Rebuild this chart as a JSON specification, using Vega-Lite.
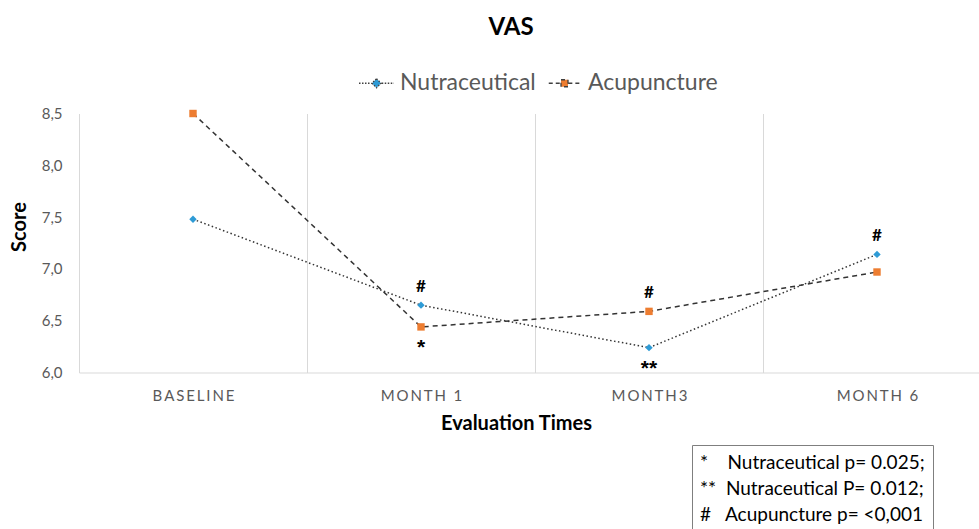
{
  "$schema": "https://vega.github.io/schema/vega-lite/v6.json",
  "autosize": {"type": "none"},
  "width": 900,
  "height": 259,
  "padding": {"left": 79, "top": 113.5, "right": 0, "bottom": 156.5},
  "background": "white",
  "config": {"view": {"stroke": null}, "font": "Lato"},
  "title": {"text": "VAS", "fontSize": 24, "fontWeight": "bold", "color": "#000000", "anchor": "middle", "frame": "group", "dx": -18, "offset": 25},
  "datasets": {
    "scores": [
      {"series": "Nutraceutical", "time": "BASELINE", "score": 7.48},
      {"series": "Nutraceutical", "time": "MONTH 1", "score": 6.65},
      {"series": "Nutraceutical", "time": "MONTH3", "score": 6.24},
      {"series": "Nutraceutical", "time": "MONTH 6", "score": 7.14},
      {"series": "Acupuncture", "time": "BASELINE", "score": 8.5},
      {"series": "Acupuncture", "time": "MONTH 1", "score": 6.44},
      {"series": "Acupuncture", "time": "MONTH3", "score": 6.59},
      {"series": "Acupuncture", "time": "MONTH 6", "score": 6.97}
    ],
    "marks": [
      {"time": "MONTH 1", "score": 6.65, "sym": "#", "pos": "above", "note": "#\u00a0\u00a0\u00a0Acupuncture p= <0,001"},
      {"time": "MONTH3", "score": 6.59, "sym": "#", "pos": "above", "note": "#\u00a0\u00a0\u00a0Acupuncture p= <0,001"},
      {"time": "MONTH 6", "score": 7.14, "sym": "#", "pos": "above", "note": "#\u00a0\u00a0\u00a0Acupuncture p= <0,001"},
      {"time": "MONTH 1", "score": 6.44, "sym": "*", "pos": "below", "note": "*\u00a0\u00a0\u00a0\u00a0Nutraceutical p= 0.025;"},
      {"time": "MONTH3", "score": 6.24, "sym": "**", "pos": "below", "note": "**\u00a0\u00a0Nutraceutical P= 0.012;"}
    ]
  },
  "resolve": {
    "scale": {"color": "independent", "shape": "independent", "strokeDash": "independent"},
    "legend": {"color": "independent", "shape": "independent", "strokeDash": "independent"}
  },
  "encoding": {
    "x": {
      "field": "time", "type": "nominal",
      "scale": {"type": "band", "domain": ["BASELINE", "MONTH 1", "MONTH3", "MONTH 6"], "range": [0, 912], "paddingInner": 0, "paddingOuter": 0},
      "axis": {
        "title": "Evaluation Times", "grid": true, "gridColor": "#D9D9D9", "tickBand": "extent", "ticks": false,
        "domainColor": "#D9D9D9", "labelColor": "#595959", "labelFontSize": 15, "labelAngle": 0,
        "labelBaseline": "middle", "labelPadding": 23,
        "labelExpr": "join(split(datum.label, ''), '\u2009')",
        "titleFontSize": 20, "titleFontWeight": "bold", "titleColor": "#000000",
        "titleX": 437, "titleY": 51, "titleBaseline": "middle"
      }
    },
    "y": {
      "field": "score", "type": "quantitative",
      "scale": {"domain": [6, 8.5], "nice": false, "zero": false},
      "axis": {
        "title": "Score", "values": [6, 6.5, 7, 7.5, 8, 8.5], "grid": false, "ticks": false, "domain": false,
        "labelColor": "#595959", "labelFontSize": 15, "labelPadding": 17,
        "labelExpr": "replace(datum.label, '.', ',')",
        "titleFontSize": 20, "titleFontWeight": "bold", "titleColor": "#000000",
        "titleX": -60, "titleY": 113, "titleBaseline": "middle", "titleAngle": -90
      }
    }
  },
  "layer": [
    {
      "data": {"name": "scores"},
      "mark": {"type": "line", "stroke": "#333333", "strokeWidth": 1.5},
      "encoding": {
        "strokeDash": {"field": "series", "type": "nominal", "scale": {"domain": ["Nutraceutical", "Acupuncture"], "range": [[1.5, 2.5], [5, 4]]}, "legend": null}
      }
    },
    {
      "data": {"name": "scores"},
      "mark": {"type": "point", "filled": true, "size": 55, "opacity": 1},
      "encoding": {
        "shape": {"field": "series", "type": "nominal", "scale": {"domain": ["Nutraceutical", "Acupuncture"], "range": ["diamond", "square"]}, "legend": null},
        "color": {"field": "series", "type": "nominal", "scale": {"domain": ["Nutraceutical", "Acupuncture"], "range": ["#2E9BD6", "#ED7D31"]}, "legend": null}
      }
    },
    {
      "data": {"name": "scores"},
      "mark": {"type": "point", "filled": true, "size": 55, "opacity": 0, "stroke": "#404040"},
      "encoding": {
        "color": {
          "field": "series", "type": "nominal",
          "scale": {"domain": ["Nutraceutical", "Acupuncture"], "range": ["#2E9BD6", "#ED7D31"]},
          "legend": {
            "title": null, "orient": "none", "direction": "horizontal", "legendX": 279, "legendY": -49,
            "padding": 0, "labelFontSize": 23, "labelColor": "#595959", "labelLimit": 300, "labelOffset": 5,
            "columnPadding": 10, "symbolSize": 1225, "symbolOpacity": 1, "symbolStrokeWidth": 1.3
          }
        },
        "shape": {
          "field": "series", "type": "nominal",
          "scale": {"domain": ["Nutraceutical", "Acupuncture"], "range": ["M-1,0H-0.3M0.3,0H1M0,-0.26L0.26,0L0,0.26L-0.26,0Z", "M-0.9,0H-0.22M0.22,0H0.9M-0.2,-0.2H0.2V0.2H-0.2Z"]},
          "legend": {
            "title": null, "orient": "none", "direction": "horizontal", "legendX": 279, "legendY": -49,
            "padding": 0, "labelFontSize": 23, "labelColor": "#595959", "labelLimit": 300, "labelOffset": 5,
            "columnPadding": 10, "symbolSize": 1225, "symbolOpacity": 1, "symbolStrokeWidth": 1.3
          }
        },
        "strokeDash": {
          "field": "series", "type": "nominal",
          "scale": {"domain": ["Nutraceutical", "Acupuncture"], "range": [[1.5, 1.5], [4, 3]]},
          "legend": {
            "title": null, "orient": "none", "direction": "horizontal", "legendX": 279, "legendY": -49,
            "padding": 0, "labelFontSize": 23, "labelColor": "#595959", "labelLimit": 300, "labelOffset": 5,
            "columnPadding": 10, "symbolSize": 1225, "symbolOpacity": 1, "symbolStrokeWidth": 1.3
          }
        }
      }
    },
    {
      "data": {"name": "marks"},
      "transform": [{"filter": "datum.pos === 'above'"}],
      "mark": {"type": "text", "dy": -18, "baseline": "middle", "fontSize": 17, "fontWeight": "bold", "color": "#000000"},
      "encoding": {
        "text": {"field": "sym"},
        "opacity": {
          "field": "note", "type": "ordinal",
          "scale": {"domain": ["*\u00a0\u00a0\u00a0\u00a0Nutraceutical p= 0.025;", "**\u00a0\u00a0Nutraceutical P= 0.012;", "#\u00a0\u00a0\u00a0Acupuncture p= <0,001"], "range": [1, 1, 1]},
          "legend": {
            "title": null, "orient": "none", "legendX": 613, "legendY": 331.5, "padding": 8,
            "strokeColor": "#7F7F7F", "fillColor": "#FFFFFF", "labelFontSize": 19, "labelColor": "#000000",
            "labelLimit": 400, "labelOffset": -19, "symbolSize": 0, "symbolOpacity": 0, "rowPadding": 6
          }
        }
      }
    },
    {
      "data": {"name": "marks"},
      "transform": [{"filter": "datum.pos === 'below'"}],
      "mark": {"type": "text", "dy": 21, "baseline": "middle", "font": "Liberation Sans", "fontSize": 21, "fontWeight": "bold", "color": "#000000"},
      "encoding": {
        "text": {"field": "sym"},
        "opacity": {
          "field": "note", "type": "ordinal",
          "scale": {"domain": ["*\u00a0\u00a0\u00a0\u00a0Nutraceutical p= 0.025;", "**\u00a0\u00a0Nutraceutical P= 0.012;", "#\u00a0\u00a0\u00a0Acupuncture p= <0,001"], "range": [1, 1, 1]},
          "legend": {
            "title": null, "orient": "none", "legendX": 613, "legendY": 331.5, "padding": 8,
            "strokeColor": "#7F7F7F", "fillColor": "#FFFFFF", "labelFontSize": 19, "labelColor": "#000000",
            "labelLimit": 400, "labelOffset": -19, "symbolSize": 0, "symbolOpacity": 0, "rowPadding": 6
          }
        }
      }
    }
  ]
}
